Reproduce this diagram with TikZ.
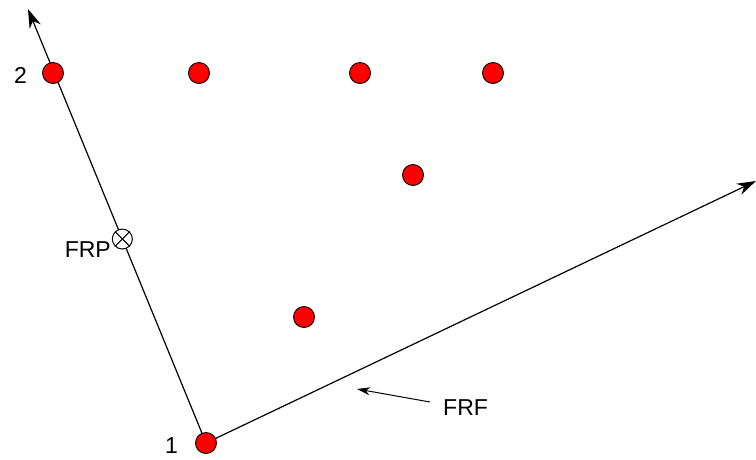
\documentclass[tikz,border=0pt]{standalone}
\usepackage{fontspec}
\setmainfont{Liberation Sans}
\usetikzlibrary{arrows.meta,calc}
\begin{document}
\begin{tikzpicture}[x=1pt,y=-1pt,
  dot/.style={circle,draw=black,line width=0.9pt,fill=red,minimum size=21pt,inner sep=0pt},
  lbl/.style={font=\fontsize{23}{27}\selectfont,inner sep=0pt},
  axis/.style={line width=1.2pt,-{Stealth[length=19pt,width=12pt,inset=6pt]}},
  pointer/.style={line width=1pt,-{Stealth[length=13pt,width=8pt,inset=4pt]}}]
\useasboundingbox (0,0) rectangle (756,459);
\coordinate (o) at (206,443);
\coordinate (ytip) at (28,9);
\coordinate (xtip) at (756,181);
\draw[axis] (o) -- (ytip);
\draw[axis] (o) -- (xtip);
\node[dot] (p1) at (o) {};
\node[dot] (p2) at (53,73) {};
\node[dot] (p3) at (199,73) {};
\node[dot] (p4) at (360,73) {};
\node[dot] (p5) at (493,73) {};
\node[dot] (p6) at (413,175) {};
\node[dot] (p7) at (304,317) {};
\node[circle,draw=black,fill=white,line width=1pt,minimum size=20pt,inner sep=0pt] (frp) at ($(o)!0.47!(ytip)$) {};
\draw[line width=1pt] (frp.north east) -- (frp.south west) (frp.north west) -- (frp.south east);
\node[lbl,anchor=east] (frpl) at (111,250) {FRP};
\node[lbl,anchor=east] (l2) at (27,75) {2};
\node[lbl,anchor=east] (l1) at (178,446) {1};
\node[lbl,anchor=west] (frfl) at (443,408) {FRF};
\coordinate (frfs) at (430,402);
\coordinate (frfe) at (357,389);
\draw[pointer] (frfs) -- (frfe);
\end{tikzpicture}
\end{document}
